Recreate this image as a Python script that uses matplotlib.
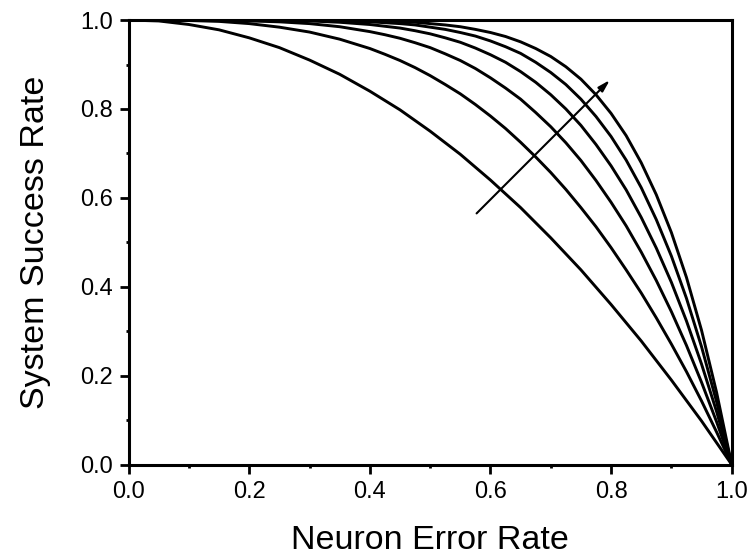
import numpy as np
import matplotlib
matplotlib.use("Agg")
import matplotlib.pyplot as plt

plt.rcParams['font.family'] = ['Liberation Sans', 'DejaVu Sans']

# --- Data ---
error_rate = [0.0, 0.05, 0.1, 0.15, 0.2, 0.25, 0.3, 0.35, 0.4, 0.425, 0.45, 0.475,
              0.5, 0.525, 0.55, 0.575, 0.6, 0.625, 0.65, 0.675, 0.7, 0.725, 0.75,
              0.775, 0.8, 0.825, 0.85, 0.875, 0.9, 0.925, 0.95, 0.975, 1.0]

success_2 = [1, .998, .99, .978, .96, .938, .91, .878, .84, .819, .798, .774, .75,
             .724, .698, .669, .64, .609, .578, .544, .51, .474, .438, .399, .36,
             .319, .278, .234, .19, .144, .098, .049, 0]
success_3 = [1, 1.0, .999, .997, .992, .984, .973, .957, .936, .923, .909, .893, .875,
             .855, .834, .810, .784, .756, .725, .692, .657, .619, .578, .535, .488,
             .438, .386, .330, .271, .209, .143, .073, 0]
success_4 = [1, 1, 1, .999, .998, .996, .992, .985, .974, .967, .959, .949, .938,
             .924, .909, .891, .870, .847, .822, .792, .760, .724, .684, .639, .590,
             .537, .478, .414, .344, .268, .185, .096, 0]
success_5 = [1, 1, 1, 1, 1, .999, .998, .995, .990, .986, .982, .976, .969,
             .960, .950, .937, .922, .905, .884, .860, .832, .800, .763, .720, .672,
             .618, .556, .487, .410, .323, .226, .119, 0]
success_6 = [1, 1, 1, 1, 1, 1, .999, .998, .996, .994, .992, .989, .984,
             .979, .972, .964, .953, .940, .925, .905, .882, .855, .822, .783, .738,
             .685, .623, .551, .469, .374, .265, .141, 0]
success_7 = [1, 1, 1, 1, 1, 1, 1, .999, .998, .997, .996, .995, .992,
             .989, .985, .979, .972, .963, .951, .936, .918, .895, .867, .832, .790,
             .740, .679, .607, .522, .421, .302, .162, 0]

curves = [success_2, success_3, success_4, success_5, success_6, success_7]

# arrow (tail -> head) in data coords
arrow_tail = (0.577, 0.565)
arrow_head = (0.798, 0.865)

tick_labels = ["0.0", "0.2", "0.4", "0.6", "0.8", "1.0"]

fig = plt.figure(figsize=(7.52, 5.57), dpi=100)
ax = fig.add_axes([0.171, 0.166, 0.802, 0.798])

for c in curves:
    ax.plot(error_rate, c, color="black", linewidth=2.1, solid_joinstyle="round")

ax.annotate("", xy=arrow_head, xytext=arrow_tail,
            arrowprops=dict(arrowstyle="-|>,head_length=0.7,head_width=0.2",
                            color="black", lw=1.5, shrinkA=0, shrinkB=0))

ax.set_xlim(0, 1)
ax.set_ylim(0, 1)
ax.set_xticks(np.arange(0, 1.01, 0.2))
ax.set_yticks(np.arange(0, 1.01, 0.2))
ax.set_xticks(np.arange(0.1, 1.0, 0.2), minor=True)
ax.set_yticks(np.arange(0.1, 1.0, 0.2), minor=True)
ax.set_xticklabels(tick_labels)
ax.set_yticklabels(tick_labels)
ax.tick_params(which="major", direction="out", length=6.5, width=2, labelsize=17)
ax.tick_params(axis="x", which="major", pad=5.5)
ax.tick_params(axis="y", which="major", pad=4.5)
ax.tick_params(which="minor", direction="out", length=2.5, width=2)

for s in ax.spines.values():
    s.set_linewidth(2.2)

ax.set_xlabel("Neuron Error Rate", fontsize=24.5, labelpad=16)
ax.set_ylabel("System Success Rate", fontsize=24.5, labelpad=21)

fig.savefig("out.png", dpi=100)
